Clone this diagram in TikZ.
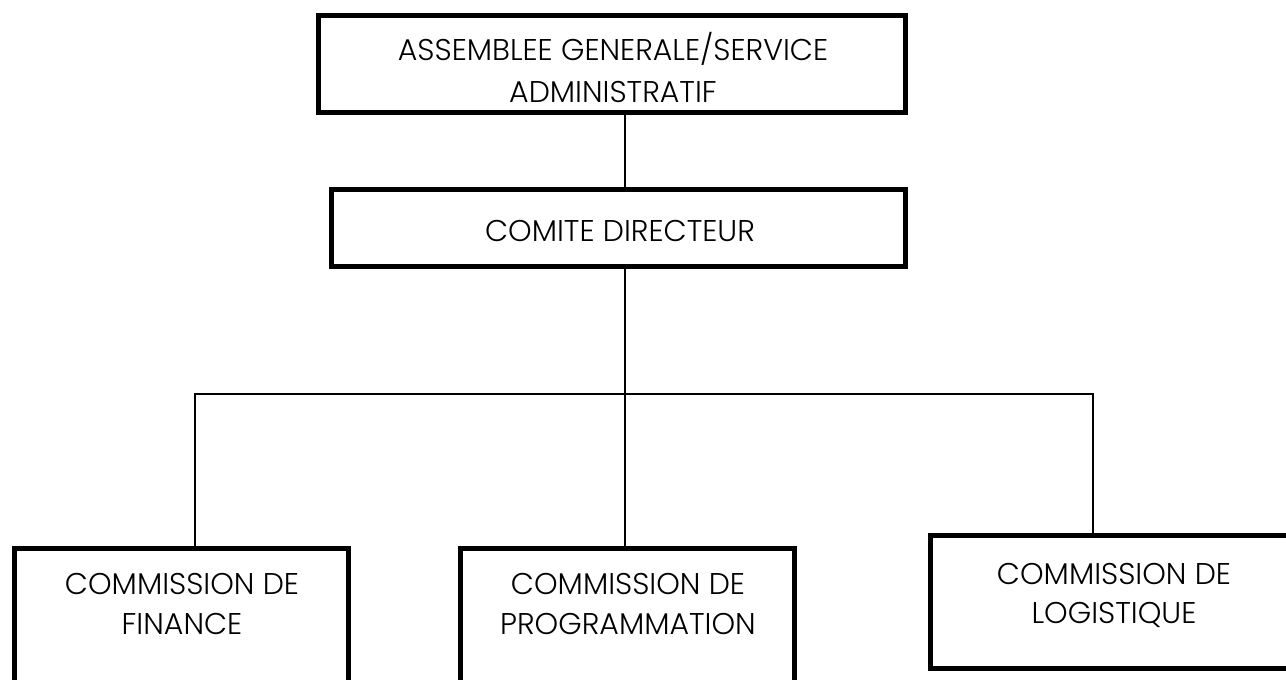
\documentclass[tikz,border=0pt]{standalone}
\usepackage{fontspec}
\IfFontExistsTF{Poppins Light}{\setmainfont{Poppins Light}}{\setmainfont{Poppins}}
\begin{document}
\begin{tikzpicture}[x=1pt,y=-1pt,
  orgbox/.style={draw=black, line width=4.5pt, rectangle, inner sep=0pt, fill=white},
  lbl/.style={font=\fontsize{30}{40}\selectfont, anchor=base, inner sep=0pt, text=black},
  link/.style={draw=black, line width=1.6pt}]
\useasboundingbox (0,0) rectangle (1286,680);
\clip (0,0) rectangle (1286,680);
\fill[white] (0,0) rectangle (1286,680);
% boxes
\node[orgbox, minimum width=587pt, minimum height=97pt] (ag) at (612,64) {};
\node[orgbox, minimum width=574pt, minimum height=77pt] (cd) at (618.5,228) {};
\node[orgbox, minimum width=334pt, minimum height=200pt] (fin) at (181.5,648.5) {};
\node[orgbox, minimum width=334pt, minimum height=200pt] (prog) at (627.5,648.5) {};
\node[orgbox, minimum width=380pt, minimum height=133pt] (log) at (1120.5,602) {};
% bus coordinates
\coordinate (bus) at (625,394);
\coordinate (bl) at (195,394);
\coordinate (br) at (1093,394);
% connectors
\draw[link] (ag.south -| bus) -- (cd.north -| bus);
\draw[link] (cd.south -| bus) -- (bus);
\draw[link] (bus) -- (prog.north -| bus);
\draw[link] (fin.north -| bl) -- (bl) -- (br) -- (log.north -| br);
% texts
\node[lbl] (ag1) at (613,60) {ASSEMBLEE GENERALE/SERVICE};
\node[lbl] (ag2) at (613,102) {ADMINISTRATIF};
\node[lbl] (cd1) at (620,241) {COMITE DIRECTEUR};
\node[lbl] (fin1) at (182,594) {COMMISSION DE};
\node[lbl] (fin2) at (182,634) {FINANCE};
\node[lbl] (prog1) at (628,594) {COMMISSION DE};
\node[lbl] (prog2) at (628,634) {PROGRAMMATION};
\node[lbl] (log1) at (1114,584) {COMMISSION DE};
\node[lbl] (log2) at (1114,623) {LOGISTIQUE};
\end{tikzpicture}
\end{document}
